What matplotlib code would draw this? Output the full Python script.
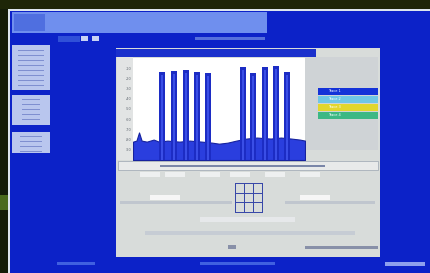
import matplotlib
matplotlib.use("Agg")
import matplotlib.pyplot as plt
from matplotlib.patches import Rectangle

# ---- data (chart units: x 0..100, level 0..100) ----
spike_pos = [16.9, 23.8, 30.8, 37.2, 43.6, 64.0, 69.8, 76.7, 83.1, 89.5]
spike_top = [86, 87, 88, 86, 85, 91, 85, 91, 92, 86]
base_x = [0, 2, 3.5, 5, 8, 12, 15, 20, 27, 33, 40, 46, 50, 55, 60, 66, 72, 80, 86, 92, 97, 100]
base_y = [18, 19, 27, 19, 18, 20, 18, 19, 18, 19, 18, 17, 16, 17, 19, 21, 22, 21, 22, 21, 20, 19]
ytick_vals = [10, 20, 30, 40, 50, 60, 70, 80, 90]
legend_colors = ["#1432d8", "#6fc6e6", "#e2d62c", "#3cb884"]
legend_names = ["Trace 1", "Trace 2", "Trace 3", "Trace 4"]

W, H = 430, 273
fig = plt.figure(figsize=(W / 100, H / 100), dpi=100)
fig.patch.set_facecolor("#141c08")


def box(x0, y0, x1, y1, color, z=1, **kw):
    fig.add_artist(Rectangle((x0 / W, 1 - y1 / H), (x1 - x0) / W, (y1 - y0) / H,
                             transform=fig.transFigure, facecolor=color,
                             edgecolor=kw.pop("ec", "none"), lw=kw.pop("lw", 0),
                             zorder=z, **kw))


# photo surroundings
box(0, 0, 430, 9, "#1e2608", 0)
box(0, 195, 9, 210, "#4a6a1c", 0)
box(8, 9, 430, 273, "#dde6ee", 0)          # bezel line
box(10, 11, 430, 273, "#0c22c8", 0)        # blue screen
# header
box(12, 12, 267, 33, "#6f8fee", 1)
box(14, 14, 45, 31, "#4f6fe0", 1)
# left side panels
box(12, 45, 50, 90, "#b9c6ee", 1)
box(12, 95, 50, 125, "#b9c6ee", 1)
box(12, 132, 50, 153, "#b9c6ee", 1)
for y in range(50, 90, 5):
    box(18, y, 44, y + 1.2, "#7f8fd0", 2)
for y in range(99, 124, 5):
    box(22, y, 40, y + 1.2, "#7f8fd0", 2)
for y in range(136, 152, 5):
    box(20, y, 42, y + 1.2, "#7f8fd0", 2)
# little toolbar above main panel
box(58, 36, 80, 42, "#3050d8", 1)
box(81, 36, 88, 41, "#c8d2f4", 2)
box(92, 36, 99, 41, "#c8d2f4", 2)
box(195, 37, 265, 40, "#5670dc", 1)
# main panel
box(116, 48, 380, 257, "#d8dcda", 1)
box(116, 49, 316, 57, "#1a30cc", 2)
box(117, 57, 133, 160, "#e2e4e4", 2)
box(305, 57, 378, 150, "#cfd3d6", 2)
box(118, 161, 378, 170, "#e8eaea", 2, ec="#9aa4b0", lw=0.5)
box(160, 165, 325, 167, "#7a86a8", 3)
# lower controls
for x0 in [140, 165, 200, 230, 265, 300]:
    box(x0, 172, x0 + 20, 177, "#eef0f0", 3)
box(150, 195, 180, 200, "#f6f6f6", 3)
box(300, 195, 330, 200, "#f6f6f6", 3)
box(120, 201, 232, 204, "#c0c6ce", 3)
box(285, 201, 375, 204, "#c0c6ce", 3)
box(200, 217, 295, 222, "#e6e8ea", 3)
box(145, 231, 355, 235, "#c6ccd4", 3)
box(305, 246, 378, 249, "#8890a8", 3)
box(228, 245, 236, 249, "#8890a8", 3)
# 3x3 grid icon
for i in range(4):
    box(235 + i * 9, 183, 235 + i * 9 + 1, 212, "#3848a8", 4)
    box(235, 183 + i * 9.5, 263, 183 + i * 9.5 + 1, "#3848a8", 4)
# legend swatches
for i, c in enumerate(legend_colors):
    y0 = 88 + i * 8
    box(318, y0, 378, y0 + 6.5, c, 3)
    fig.text(328 / W, 1 - (y0 + 3.5) / H, legend_names[i], fontsize=2.5,
             color="#ffffff", va="center", zorder=5)
# bottom strip
box(200, 262, 275, 265, "#4060e0", 1)
box(385, 262, 425, 266, "#8ea0ee", 1)
box(57, 262, 95, 265, "#4060e0", 1)

# ---- the spectrum chart ----
ax = fig.add_axes([133 / W, 1 - 160 / H, 172 / W, 102 / H], zorder=5)
ax.set_facecolor("#ffffff")
ax.fill_between(base_x, 0, base_y, color="#2a3ede", lw=0.8, edgecolor="#16229e")
ax.bar(spike_pos, spike_top, width=3.8, color="#1c2cc4", edgecolor="none")
ax.bar(spike_pos, [t - 3 for t in spike_top], width=1.6, color="#3a4ee6", edgecolor="none")
ax.set_xlim(0, 100)
ax.set_ylim(0, 100)
ax.set_yticks(ytick_vals)
ax.set_yticklabels([f"-{100 - v}" for v in ytick_vals], fontsize=2.5, color="#606870")
ax.set_xticks([])
ax.tick_params(axis="y", length=0, pad=1)
for s in ax.spines.values():
    s.set_visible(False)

fig.savefig("out.png", dpi=100, facecolor=fig.get_facecolor())
